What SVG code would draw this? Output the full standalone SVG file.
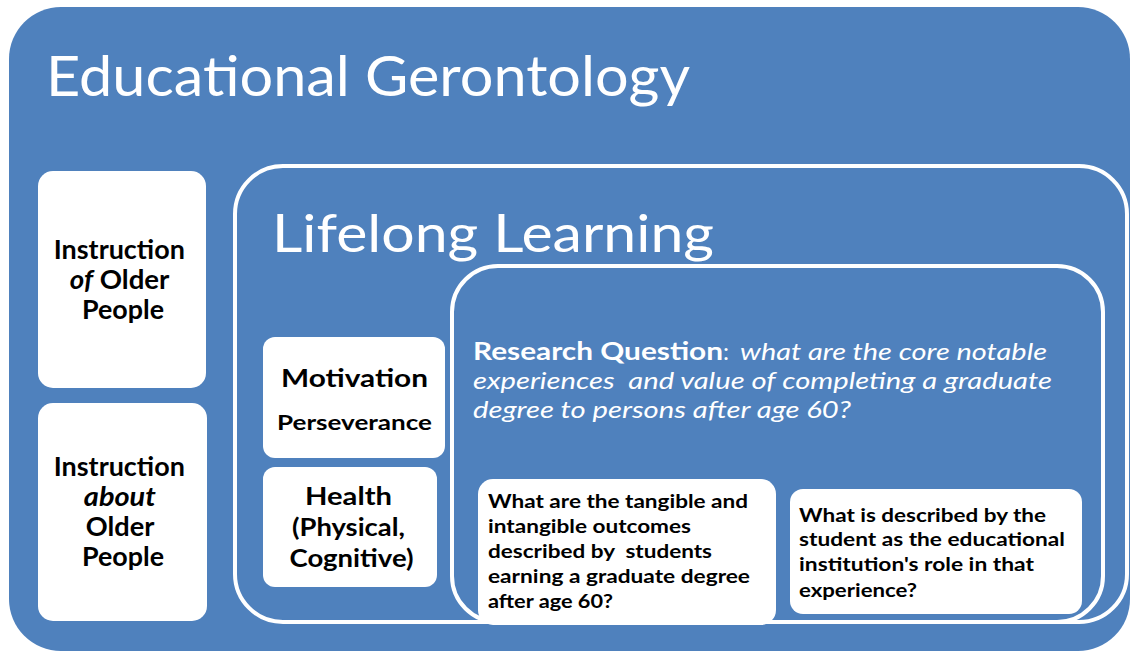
<svg xmlns="http://www.w3.org/2000/svg" width="1131" height="651" viewBox="0 0 1131 651">
<style>
.bg{fill:#4F81BD}
.frame{fill:#4F81BD;stroke:#FFFFFF;stroke-width:4}
.box{fill:#FFFFFF}
.title{font-family:Lato,"Open Sans","Liberation Sans",sans-serif;fill:#FFFFFF}
.lbl{font-family:Lato,"Open Sans","Liberation Sans",sans-serif;font-weight:bold;fill:#000000}
.rq{font-family:Lato,"Open Sans","Liberation Sans",sans-serif;fill:#FFFFFF;font-size:24px}
</style>
<rect x="0" y="0" width="1131" height="651" fill="#FFFFFF"/>
<g id="educational-gerontology">
<rect class="bg" x="9" y="7" width="1121" height="644" rx="52"/>
<text class="title" x="46" y="96" font-size="56" textLength="644" lengthAdjust="spacingAndGlyphs">Educational Gerontology</text>
</g>
<g id="instruction-of">
<rect class="box" x="38" y="171" width="168" height="217" rx="15"/>
<text class="lbl" font-size="26" text-anchor="middle">
<tspan x="122.5" y="259" textLength="131" lengthAdjust="spacingAndGlyphs">Instruction</tspan>
<tspan x="122.5" y="289" textLength="99" lengthAdjust="spacingAndGlyphs"><tspan font-style="italic">of</tspan> Older</tspan>
<tspan x="123" y="319" textLength="82" lengthAdjust="spacingAndGlyphs">People</tspan>
</text>
</g>
<g id="instruction-about">
<rect class="box" x="38" y="403" width="169" height="218" rx="15"/>
<text class="lbl" font-size="26" text-anchor="middle">
<tspan x="122.5" y="476" textLength="131" lengthAdjust="spacingAndGlyphs">Instruction</tspan>
<tspan x="123" y="506" font-style="italic" textLength="72" lengthAdjust="spacingAndGlyphs">about</tspan>
<tspan x="123" y="536" textLength="68" lengthAdjust="spacingAndGlyphs">Older</tspan>
<tspan x="123" y="566" textLength="82" lengthAdjust="spacingAndGlyphs">People</tspan>
</text>
</g>
<g id="lifelong-learning">
<rect class="frame" x="235" y="166" width="892" height="456" rx="48"/>
<text class="title" x="272" y="252" font-size="52" textLength="442" lengthAdjust="spacingAndGlyphs">Lifelong Learning</text>
</g>
<g id="motivation">
<rect class="box" x="263" y="337" width="182" height="121" rx="12"/>
<text class="lbl" x="354.5" y="387" font-size="24" text-anchor="middle" textLength="147" lengthAdjust="spacingAndGlyphs">Motivation</text>
<text class="lbl" x="354.5" y="430" font-size="21" text-anchor="middle" textLength="155" lengthAdjust="spacingAndGlyphs">Perseverance</text>
</g>
<g id="health">
<rect class="box" x="263" y="467" width="174" height="120" rx="12"/>
<text class="lbl" font-size="25" text-anchor="middle">
<tspan x="351.5" y="505" textLength="87" lengthAdjust="spacingAndGlyphs">Health</tspan>
<tspan x="351.5" y="536" textLength="113" lengthAdjust="spacingAndGlyphs">(Physical,</tspan>
<tspan x="351.5" y="567" textLength="124" lengthAdjust="spacingAndGlyphs">Cognitive)</tspan>
</text>
</g>
<g id="research-question">
<rect class="frame" x="452" y="266" width="651" height="356" rx="46"/>
<text class="rq" y="360"><tspan x="473" font-weight="bold" textLength="250" lengthAdjust="spacingAndGlyphs">Research Question</tspan><tspan x="723">:</tspan><tspan x="740" font-style="italic" textLength="307" lengthAdjust="spacingAndGlyphs">what are the core notable</tspan></text>
<text class="rq" x="473" y="389" font-style="italic" textLength="579" lengthAdjust="spacingAndGlyphs" xml:space="preserve">experiences  and value of completing a graduate</text>
<text class="rq" x="473" y="418" font-style="italic" textLength="378" lengthAdjust="spacingAndGlyphs">degree to persons after age 60?</text>
</g>
<g id="outcomes">
<rect class="box" x="478" y="479" width="298" height="146" rx="15"/>
<text class="lbl" font-size="18" xml:space="preserve">
<tspan x="488" y="508" textLength="260" lengthAdjust="spacingAndGlyphs">What are the tangible and</tspan>
<tspan x="488" y="533" textLength="203" lengthAdjust="spacingAndGlyphs">intangible outcomes</tspan>
<tspan x="488" y="558" textLength="224" lengthAdjust="spacingAndGlyphs">described by  students</tspan>
<tspan x="488" y="583" textLength="262" lengthAdjust="spacingAndGlyphs">earning a graduate degree</tspan>
<tspan x="488" y="608" textLength="125" lengthAdjust="spacingAndGlyphs">after age 60?</tspan>
</text>
</g>
<g id="institution-role">
<rect class="box" x="790" y="489" width="292" height="125" rx="13"/>
<text class="lbl" font-size="18">
<tspan x="799" y="522" textLength="247" lengthAdjust="spacingAndGlyphs">What is described by the</tspan>
<tspan x="799" y="546" textLength="266" lengthAdjust="spacingAndGlyphs">student as the educational</tspan>
<tspan x="799" y="571" textLength="235" lengthAdjust="spacingAndGlyphs">institution's role in that</tspan>
<tspan x="799" y="597" textLength="118" lengthAdjust="spacingAndGlyphs">experience?</tspan>
</text>
</g>
<g id="connectors"></g>
</svg>
